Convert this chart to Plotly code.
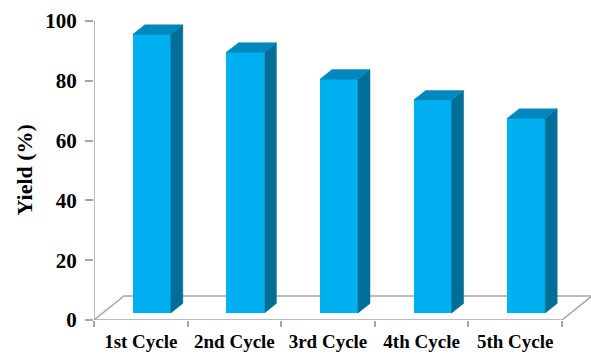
import plotly.graph_objects as go

categories = ["1st Cycle", "2nd Cycle", "3rd Cycle", "4th Cycle", "5th Cycle"]
yields = [93.2, 87.2, 78.2, 71.2, 65.1]
y_ticks = [0, 20, 40, 60, 80, 100]

# geometry (data units)
PX_X = 93.6            # px per category unit
PX_Y = 2.99            # px per % unit
floor_dx, floor_dy = 30 / PX_X, 24 / PX_Y
bar_off = 11 / PX_X
bar_base = 7 / PX_Y
bar_w = 38 / PX_X
depth_dx, depth_dy = 12 / PX_X, 3.2

FRONT = "#00B0F0"
TOP = "#0088BE"
SIDE = "#006E96"
GRID = "#A6A6A6"

fig = go.Figure()

n = len(categories)
x0, x1 = -0.5, n - 0.5

shapes = []
floor_pts = [(x0, 0), (x1, 0), (x1 + floor_dx, floor_dy), (x0 + floor_dx, floor_dy)]
path = "M " + " L ".join(f"{px},{py}" for px, py in floor_pts) + " Z"
shapes.append(dict(type="path", path=path, xref="x", yref="y", layer="below",
                   line=dict(color=GRID, width=1.5), fillcolor="rgba(0,0,0,0)"))
shapes.append(dict(type="line", xref="x", yref="y", x0=x0, x1=x0, y0=0, y1=y_ticks[-1],
                   layer="below", line=dict(color=GRID, width=1.5)))

xs = [i + bar_off for i in range(n)]
fig.add_trace(go.Bar(
    x=xs, y=yields, base=bar_base, width=bar_w,
    marker=dict(color=FRONT, line=dict(width=0)),
    showlegend=False))

for xc, v in zip(xs, yields):
    xl, xr = xc - bar_w / 2, xc + bar_w / 2
    top = bar_base + v
    fig.add_trace(go.Scatter(
        x=[xr, xr + depth_dx, xr + depth_dx, xr, xr],
        y=[bar_base, bar_base + depth_dy, top + depth_dy, top, bar_base],
        fill="toself", fillcolor=SIDE, mode="lines",
        line=dict(color=SIDE, width=0.5), hoverinfo="skip",
        showlegend=False))
    fig.add_trace(go.Scatter(
        x=[xl, xl + depth_dx, xr + depth_dx, xr, xl],
        y=[top, top + depth_dy, top + depth_dy, top, top],
        fill="toself", fillcolor=TOP, mode="lines",
        line=dict(color=TOP, width=0.5), hoverinfo="skip",
        showlegend=False))

W, H = 591, 356
ml, mb = 94, 36
plot_w = W - ml
plot_h = H - mb

fig.update_layout(
    width=W, height=H,
    margin=dict(l=ml, r=0, t=0, b=mb),
    paper_bgcolor="white", plot_bgcolor="white",
    bargap=0,
    shapes=shapes,
    xaxis=dict(
        range=[x0, x0 + plot_w / PX_X],
        tickvals=list(range(n)), ticktext=categories,
        ticks="", showgrid=False, zeroline=False, showline=False,
        ticklabelstandoff=8,
        tickfont=dict(family="Liberation Serif", size=19, color="black", weight="bold"),
        minor=dict(tickvals=[i - 0.5 for i in range(n + 1)], ticks="outside",
                   ticklen=6, tickcolor=GRID, tickwidth=1.5, showgrid=False),
    ),
    yaxis=dict(
        range=[0, plot_h / PX_Y],
        tickvals=y_ticks, ticks="outside", ticklen=8, tickcolor=GRID, tickwidth=1.5,
        showgrid=False, zeroline=False, showline=False,
        ticklabelstandoff=4,
        tickfont=dict(family="Liberation Serif", size=21, color="black", weight="bold"),
    ),
    annotations=[dict(
        text="Yield (%)", textangle=-90, showarrow=False,
        xref="paper", yref="y", x=(24 - ml) / plot_w, y=50,
        xanchor="center", yanchor="middle",
        font=dict(family="Liberation Serif", size=22, color="black", weight="bold"))],
)

fig.write_html("out.html")
